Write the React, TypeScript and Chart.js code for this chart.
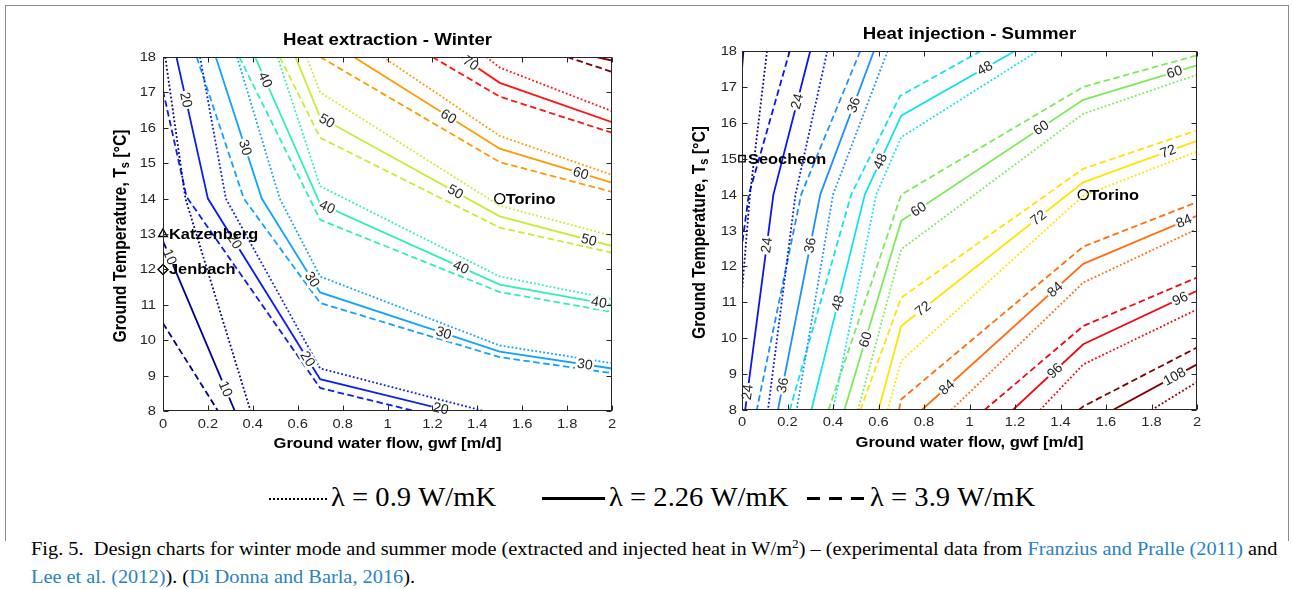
import React, { useEffect, useRef } from 'react';
import { Chart, registerables } from 'chart.js';

Chart.register(...registerables);

type Pt = [number, number];

// ---------- axes ----------
const gwfTicks = [0, 0.2, 0.4, 0.6, 0.8, 1, 1.2, 1.4, 1.6, 1.8, 2];
const tempTicks = [8, 9, 10, 11, 12, 13, 14, 15, 16, 17, 18];

// ---------- winter contour lines [gwf, T] (dot = λ 0.9, sol = λ 2.26, dash = λ 3.9) ----------
const w10_dot: Pt[] = [[0.01, 18], [0.1, 14], [0.39, 8]];
const w10_sol: Pt[] = [[0, 12.8], [0.32, 8]];
const w10_dash: Pt[] = [[0, 10.48], [0.245, 8]];
const w20_dot: Pt[] = [[0.165, 18], [0.28, 14], [0.7, 9.2], [1.43, 8]];
const w20_sol: Pt[] = [[0.06, 18], [0.2, 14], [0.7, 8.9], [1.28, 8]];
const w20_dash: Pt[] = [[0, 17.05], [0.105, 14.05], [0.7, 8.65], [1.12, 8]];
const w30_dot: Pt[] = [[0.33, 18], [0.52, 14], [0.7, 11.8], [1.5, 9.85], [2, 9.35]];
const w30_sol: Pt[] = [[0.235, 18], [0.44, 14], [0.7, 11.35], [1.5, 9.68], [2, 9.2]];
const w30_dash: Pt[] = [[0.15, 18], [0.36, 14], [0.7, 11.05], [1.5, 9.52], [2, 9.07]];
const w40_dot: Pt[] = [[0.51, 18], [0.7, 14.35], [1.5, 11.8], [2, 11.16]];
const w40_sol: Pt[] = [[0.41, 18], [0.7, 13.85], [1.5, 11.57], [2, 11.0]];
const w40_dash: Pt[] = [[0.34, 18], [0.7, 13.4], [1.5, 11.36], [2, 10.8]];
const w50_dot: Pt[] = [[0.64, 18], [0.7, 17.0], [1.5, 13.8], [2, 12.95]];
const w50_sol: Pt[] = [[0.59, 18], [0.7, 16.3], [1.5, 13.5], [2, 12.66]];
const w50_dash: Pt[] = [[0.52, 18], [0.7, 15.72], [1.5, 13.18], [2, 12.47]];
const w60_dot: Pt[] = [[0.98, 18], [1.5, 15.77], [2, 14.67]];
const w60_sol: Pt[] = [[0.85, 18], [1.5, 15.41], [2, 14.45]];
const w60_dash: Pt[] = [[0.7, 18], [1.5, 15.03], [2, 14.19]];
const w70_dot: Pt[] = [[1.44, 18], [1.5, 17.7], [2, 16.47]];
const w70_sol: Pt[] = [[1.33, 18], [1.5, 17.27], [2, 16.16]];
const w70_dash: Pt[] = [[1.2, 18], [1.5, 16.88], [2, 15.86]];
const w80_sol: Pt[] = [[1.93, 18], [2, 17.9]];
const w80_dash: Pt[] = [[1.8, 18], [2, 17.58]];

// contour label anchors [level, gwf, T] (snapped onto the λ = 2.26 line)
const winterLabels: [number, number, number][] = [
  [10, 0.03, 12.35], [10, 0.27, 8.6],
  [20, 0.11, 16.8], [20, 0.32, 12.8], [20, 0.64, 9.45], [20, 1.24, 8.15],
  [30, 0.37, 15.45], [30, 0.66, 11.7], [30, 1.25, 10.2], [30, 1.88, 9.35],
  [40, 0.455, 17.35], [40, 0.73, 13.74], [40, 1.33, 12.1], [40, 1.94, 11.0],
  [50, 0.73, 16.2], [50, 1.29, 14.05], [50, 1.9, 12.9],
  [60, 1.27, 16.3], [60, 1.86, 14.7],
  [70, 1.37, 17.82],
];

// ---------- summer contour lines ----------
const s12_dot: Pt[] = [[0.11, 18], [0.035, 14], [0, 11.3]];
const s12_sol: Pt[] = [[0.006, 18], [0, 17.5]];
const s24_dot: Pt[] = [[0.375, 18], [0.235, 14], [0.114, 8]];
const s24_sol: Pt[] = [[0.3, 18], [0.138, 14], [0.014, 8]];
const s24_dash: Pt[] = [[0.21, 18], [0.03, 14], [0, 12.6]];
const s36_dot: Pt[] = [[0.64, 18], [0.4, 14], [0.24, 8]];
const s36_sol: Pt[] = [[0.58, 18], [0.344, 14], [0.158, 8]];
const s36_dash: Pt[] = [[0.52, 18], [0.26, 14], [0.065, 8]];
const s48_dot: Pt[] = [[0.4, 8], [0.59, 14], [0.7, 15.6], [1.3, 18]];
const s48_sol: Pt[] = [[0.305, 8], [0.54, 14], [0.7, 16.2], [1.2, 18]];
const s48_dash: Pt[] = [[0.21, 8], [0.48, 14], [0.695, 16.75], [1.05, 18]];
const s60_dot: Pt[] = [[0.51, 8], [0.7, 12.48], [1.5, 16.25], [2, 17.34]];
const s60_sol: Pt[] = [[0.45, 8], [0.7, 13.27], [1.5, 16.64], [2, 17.6]];
const s60_dash: Pt[] = [[0.38, 8], [0.7, 14.0], [1.5, 17.0], [2, 17.88]];
const s72_dot: Pt[] = [[0.64, 8], [0.7, 9.37], [1.5, 13.97], [2, 15.2]];
const s72_sol: Pt[] = [[0.6, 8], [0.7, 10.34], [1.5, 14.34], [2, 15.5]];
const s72_dash: Pt[] = [[0.52, 8], [0.7, 11.13], [1.5, 14.72], [2, 15.79]];
const s84_dot: Pt[] = [[0.92, 8], [1.5, 11.55], [2, 13.04]];
const s84_sol: Pt[] = [[0.79, 8], [1.5, 12.07], [2, 13.41]];
const s84_dash: Pt[] = [[0.69, 8], [0.7, 8.3], [1.5, 12.55], [2, 13.79]];
const s96_dot: Pt[] = [[1.31, 8], [1.5, 9.27], [2, 10.8]];
const s96_sol: Pt[] = [[1.19, 8], [1.5, 9.83], [2, 11.32]];
const s96_dash: Pt[] = [[1.066, 8], [1.5, 10.34], [2, 11.69]];
const s108_dot: Pt[] = [[1.8, 8], [2, 8.78]];
const s108_sol: Pt[] = [[1.63, 8], [2, 9.27]];
const s108_dash: Pt[] = [[1.48, 8], [1.5, 8.1], [2, 9.74]];

const summerLabels: [number, number, number][] = [
  [24, 0.24, 16.6], [24, 0.1, 12.6], [24, 0.02, 8.5],
  [36, 0.49, 16.5], [36, 0.29, 12.6], [36, 0.17, 8.7],
  [48, 1.06, 17.6], [48, 0.6, 14.95], [48, 0.41, 11.0],
  [60, 1.9, 17.43], [60, 1.31, 15.9], [60, 0.77, 13.65], [60, 0.54, 9.97],
  [72, 1.87, 15.25], [72, 1.29, 13.46], [72, 0.79, 10.86],
  [84, 1.94, 13.3], [84, 1.37, 11.4], [84, 0.89, 8.7],
  [96, 1.92, 11.18], [96, 1.37, 9.13],
  [108, 1.9, 8.95],
];

// ---------- stations ----------
const winterStations = [
  { name: 'Katzenberg', gwf: 0, T: 13, marker: 'triangle' },
  { name: 'Jenbach', gwf: 0, T: 12, marker: 'rectRot' },
  { name: 'Torino', gwf: 1.5, T: 14, marker: 'circle' },
];
const summerStations = [
  { name: 'Seocheon', gwf: 0, T: 15, marker: 'rect' },
  { name: 'Torino', gwf: 1.5, T: 14, marker: 'circle' },
];

type Line = { level: number; lam: number; pts: Pt[] };

const winterLines: Line[] = [
  { level: 10, lam: 0.9, pts: w10_dot }, { level: 10, lam: 2.26, pts: w10_sol }, { level: 10, lam: 3.9, pts: w10_dash },
  { level: 20, lam: 0.9, pts: w20_dot }, { level: 20, lam: 2.26, pts: w20_sol }, { level: 20, lam: 3.9, pts: w20_dash },
  { level: 30, lam: 0.9, pts: w30_dot }, { level: 30, lam: 2.26, pts: w30_sol }, { level: 30, lam: 3.9, pts: w30_dash },
  { level: 40, lam: 0.9, pts: w40_dot }, { level: 40, lam: 2.26, pts: w40_sol }, { level: 40, lam: 3.9, pts: w40_dash },
  { level: 50, lam: 0.9, pts: w50_dot }, { level: 50, lam: 2.26, pts: w50_sol }, { level: 50, lam: 3.9, pts: w50_dash },
  { level: 60, lam: 0.9, pts: w60_dot }, { level: 60, lam: 2.26, pts: w60_sol }, { level: 60, lam: 3.9, pts: w60_dash },
  { level: 70, lam: 0.9, pts: w70_dot }, { level: 70, lam: 2.26, pts: w70_sol }, { level: 70, lam: 3.9, pts: w70_dash },
  { level: 80, lam: 2.26, pts: w80_sol }, { level: 80, lam: 3.9, pts: w80_dash },
];

const summerLines: Line[] = [
  { level: 12, lam: 0.9, pts: s12_dot }, { level: 12, lam: 2.26, pts: s12_sol },
  { level: 24, lam: 0.9, pts: s24_dot }, { level: 24, lam: 2.26, pts: s24_sol }, { level: 24, lam: 3.9, pts: s24_dash },
  { level: 36, lam: 0.9, pts: s36_dot }, { level: 36, lam: 2.26, pts: s36_sol }, { level: 36, lam: 3.9, pts: s36_dash },
  { level: 48, lam: 0.9, pts: s48_dot }, { level: 48, lam: 2.26, pts: s48_sol }, { level: 48, lam: 3.9, pts: s48_dash },
  { level: 60, lam: 0.9, pts: s60_dot }, { level: 60, lam: 2.26, pts: s60_sol }, { level: 60, lam: 3.9, pts: s60_dash },
  { level: 72, lam: 0.9, pts: s72_dot }, { level: 72, lam: 2.26, pts: s72_sol }, { level: 72, lam: 3.9, pts: s72_dash },
  { level: 84, lam: 0.9, pts: s84_dot }, { level: 84, lam: 2.26, pts: s84_sol }, { level: 84, lam: 3.9, pts: s84_dash },
  { level: 96, lam: 0.9, pts: s96_dot }, { level: 96, lam: 2.26, pts: s96_sol }, { level: 96, lam: 3.9, pts: s96_dash },
  { level: 108, lam: 0.9, pts: s108_dot }, { level: 108, lam: 2.26, pts: s108_sol }, { level: 108, lam: 3.9, pts: s108_dash },
];

// ---------- styles ----------
const winterColors: Record<number, string> = {
  10: '#00008f', 20: '#0a1ef0', 30: '#12a2ff', 40: '#30eebb', 50: '#c2f032', 60: '#ff9a00', 70: '#ff1414', 80: '#7f0000',
};
const summerColors: Record<number, string> = {
  12: '#00008f', 24: '#0a14f5', 36: '#2090ff', 48: '#12e2f2', 60: '#7ceb5a', 72: '#ffe400', 84: '#ff6e10', 96: '#ee0a14', 108: '#7f0000',
};
const dashFor: Record<string, number[]> = { '0.9': [1.8, 2.2], '2.26': [], '3.9': [6.5, 3.5] };
const widthFor: Record<string, number> = { '0.9': 1.8, '2.26': 1.8, '3.9': 1.8 };

const SANS = '"Liberation Sans", Arial, Helvetica, sans-serif';
const SERIF = '"Liberation Serif", "Times New Roman", serif';
const STRETCH = 1.13; // the reference figure is set slightly wide

type PanelProps = {
  title: string;
  lines: Line[];
  colors: Record<number, string>;
  labels: [number, number, number][];
  stations: { name: string; gwf: number; T: number; marker: string }[];
  left: number; top: number; w: number; h: number;
  pad: { left: number; right: number; top: number; bottom: number };
  yGap: number;
  xGap: number;
};

function snapLabel(chart: any, pts: Pt[], gx: number, gy: number) {
  const xs = chart.scales.x, ys = chart.scales.y;
  const px = xs.getPixelForValue(gx), py = ys.getPixelForValue(gy);
  let best: any = null;
  for (let i = 0; i < pts.length - 1; i++) {
    const ax = xs.getPixelForValue(pts[i][0]), ay = ys.getPixelForValue(pts[i][1]);
    const bx = xs.getPixelForValue(pts[i + 1][0]), by = ys.getPixelForValue(pts[i + 1][1]);
    const dx = bx - ax, dy = by - ay;
    const L = dx * dx + dy * dy || 1;
    let t = ((px - ax) * dx + (py - ay) * dy) / L;
    t = Math.max(0, Math.min(1, t));
    const qx = ax + t * dx, qy = ay + t * dy;
    const d = Math.hypot(px - qx, py - qy);
    if (!best || d < best.d) best = { d, qx, qy, ang: Math.atan2(dy, dx) };
  }
  let ang = best.ang;
  while (ang > Math.PI / 2) ang -= Math.PI;
  while (ang <= -Math.PI / 2) ang += Math.PI;
  return { x: best.qx, y: best.qy, ang };
}

function wideText(ctx: any, text: string, x: number, y: number) {
  ctx.save();
  ctx.translate(x, y);
  ctx.scale(STRETCH, 1);
  ctx.fillText(text, 0, 0);
  ctx.restore();
}

function Panel(p: PanelProps) {
  const ref = useRef<HTMLCanvasElement>(null);
  useEffect(() => {
    const lineSets = p.lines.map((l) => ({
      data: l.pts.map(([x, y]) => ({ x, y })),
      showLine: true,
      borderColor: p.colors[l.level],
      borderWidth: widthFor[String(l.lam)],
      borderDash: dashFor[String(l.lam)],
      pointRadius: 0,
      fill: false,
      tension: 0,
    }));
    const stationSets = p.stations.map((s) => ({
      data: [{ x: s.gwf, y: s.T }],
      showLine: false,
      pointStyle: s.marker,
      pointRadius: s.marker === 'rect' ? 4.5 : 5,
      pointBorderColor: '#000',
      pointBackgroundColor: 'rgba(0,0,0,0)',
      pointBorderWidth: 1.4,
      clip: false,
    }));
    const plugin = {
      id: 'panelDecor',
      afterDatasetsDraw(chart: any) {
        const ctx = chart.ctx;
        const xs = chart.scales.x, ys = chart.scales.y;
        ctx.save();
        ctx.font = `14px ${SANS}`;
        ctx.textAlign = 'center';
        ctx.textBaseline = 'middle';
        for (const [level, gx, gy] of p.labels) {
          const line = p.lines.find((l) => l.level === level && l.lam === 2.26);
          if (!line) continue;
          const s = snapLabel(chart, line.pts, gx, gy);
          ctx.save();
          ctx.translate(s.x, s.y);
          ctx.rotate(s.ang);
          const txt = String(level);
          const w = ctx.measureText(txt).width;
          ctx.fillStyle = '#fff';
          ctx.fillRect(-w / 2 - 1.5, -6.5, w + 3, 13);
          ctx.fillStyle = '#262626';
          ctx.fillText(txt, 0, 0.5);
          ctx.restore();
        }
        ctx.font = `bold 14.5px ${SANS}`;
        ctx.textAlign = 'left';
        ctx.fillStyle = '#000';
        for (const st of p.stations) {
          wideText(ctx, st.name, xs.getPixelForValue(st.gwf) + 6, ys.getPixelForValue(st.T) + 1);
        }
        ctx.restore();
      },
      afterDraw(chart: any) {
        const ctx = chart.ctx;
        const a = chart.chartArea;
        const xs = chart.scales.x, ys = chart.scales.y;
        ctx.save();
        ctx.strokeStyle = '#262626';
        ctx.lineWidth = 1;
        const L = Math.round(a.left) + 0.5, R = Math.round(a.right) - 0.5;
        const T = Math.round(a.top) + 0.5, B = Math.round(a.bottom) - 0.5;
        ctx.strokeRect(L, T, R - L, B - T);
        ctx.beginPath();
        const tl = 5;
        for (const v of gwfTicks) {
          const x = Math.round(xs.getPixelForValue(v)) + 0.5;
          ctx.moveTo(x, B); ctx.lineTo(x, B - tl);
          ctx.moveTo(x, T); ctx.lineTo(x, T + tl);
        }
        for (const v of tempTicks) {
          const y = Math.round(ys.getPixelForValue(v)) + 0.5;
          ctx.moveTo(L, y); ctx.lineTo(L + tl, y);
          ctx.moveTo(R, y); ctx.lineTo(R - tl, y);
        }
        ctx.stroke();
        // tick labels
        ctx.fillStyle = '#262626';
        ctx.font = `13px ${SANS}`;
        ctx.textBaseline = 'middle';
        ctx.textAlign = 'center';
        for (const v of gwfTicks) wideText(ctx, String(v), xs.getPixelForValue(v), a.bottom + p.xGap);
        ctx.textAlign = 'right';
        for (const v of tempTicks) wideText(ctx, String(v), a.left - p.yGap, ys.getPixelForValue(v) + 0.5);
        // titles
        ctx.fillStyle = '#000';
        ctx.textAlign = 'center';
        const cx = (a.left + a.right) / 2;
        ctx.font = `bold 16.5px ${SANS}`;
        wideText(ctx, p.title, cx, a.top - 17);
        ctx.font = `bold 14.7px ${SANS}`;
        wideText(ctx, 'Ground water flow, gwf [m/d]', cx, a.bottom + 33);
        // y title with subscript
        const cy = (a.top + a.bottom) / 2 + 2;
        ctx.translate(a.left - 42, cy);
        ctx.scale(STRETCH, 1);
        ctx.rotate(-Math.PI / 2);
        ctx.textAlign = 'left';
        const p1 = 'Ground Temperature, T', p2 = 's', p3 = ' [°C]';
        const big = `bold 15.8px ${SANS}`, small = `bold 11px ${SANS}`;
        ctx.font = big;
        const w1 = ctx.measureText(p1).width, w3 = ctx.measureText(p3).width;
        ctx.font = small;
        const w2 = ctx.measureText(p2).width;
        const start = -(w1 + w2 + w3) / 2;
        ctx.font = big;
        ctx.fillText(p1, start, 0);
        ctx.font = small;
        ctx.fillText(p2, start + w1, 4);
        ctx.font = big;
        ctx.fillText(p3, start + w1 + w2, 0);
        ctx.restore();
      },
    };
    const chart = new Chart(ref.current as HTMLCanvasElement, {
      type: 'scatter',
      data: { datasets: [...lineSets, ...stationSets] as any },
      options: {
        animation: false,
        responsive: false,
        maintainAspectRatio: false,
        events: [],
        layout: { padding: p.pad },
        plugins: { legend: { display: false }, tooltip: { enabled: false }, title: { display: false } },
        scales: {
          x: {
            type: 'linear', min: 0, max: 2,
            afterBuildTicks: (s: any) => { s.ticks = gwfTicks.map((v) => ({ value: v })); },
            afterFit: (s: any) => { s.height = 20; },
            ticks: { display: false },
            grid: { display: false, drawTicks: false },
            border: { display: false },
          },
          y: {
            type: 'linear', min: 8, max: 18,
            afterBuildTicks: (s: any) => { s.ticks = tempTicks.map((v) => ({ value: v })); },
            afterFit: (s: any) => { s.width = 40; },
            ticks: { display: false },
            grid: { display: false, drawTicks: false },
            border: { display: false },
          },
        },
      } as any,
      plugins: [plugin],
    });
    return () => chart.destroy();
  }, []);
  return (
    <canvas
      ref={ref}
      width={p.w}
      height={p.h}
      style={{ position: 'absolute', left: p.left, top: p.top, width: p.w, height: p.h }}
    />
  );
}

const linkColor = '#2a82bf';
const legendText: React.CSSProperties = {
  position: 'absolute', top: 481, font: `27px ${SERIF}`, lineHeight: '32px', whiteSpace: 'nowrap',
  transform: 'scaleX(1.06)', transformOrigin: 'left center',
};

export default function App() {
  useEffect(() => {
    document.body.style.margin = '0';
  }, []);
  return (
    <div style={{ position: 'absolute', left: 0, top: 0, width: 1293, height: 589, background: '#fff', overflow: 'hidden' }}>
      <div style={{ position: 'absolute', left: 5, top: 5, width: 1282, height: 535, borderLeft: '1px solid #8a8a8a', borderTop: '1px solid #8a8a8a', borderRight: '1px solid #8a8a8a' }} />
      <Panel
        title="Heat extraction - Winter"
        lines={winterLines}
        colors={winterColors}
        labels={winterLabels}
        stations={winterStations}
        left={100} top={20} w={540} h={450}
        pad={{ left: 23, right: 28, top: 37, bottom: 39 }}
        yGap={7} xGap={13}
      />
      <Panel
        title="Heat injection - Summer"
        lines={summerLines}
        colors={summerColors}
        labels={summerLabels}
        stations={summerStations}
        left={680} top={15} w={540} h={455}
        pad={{ left: 22, right: 23, top: 36, bottom: 40 }}
        yGap={5} xGap={12}
      />
      {/* legend */}
      <div style={{ position: 'absolute', left: 269, top: 498, width: 58, borderTop: '2px dotted #000' }} />
      <div style={{ ...legendText, left: 331 }}>λ = 0.9 W/mK</div>
      <div style={{ position: 'absolute', left: 542, top: 497, width: 63, borderTop: '3px solid #000' }} />
      <div style={{ ...legendText, left: 609 }}>λ = 2.26 W/mK</div>
      <div style={{ position: 'absolute', left: 807, top: 497, width: 13, borderTop: '3px solid #000' }} />
      <div style={{ position: 'absolute', left: 829, top: 497, width: 13, borderTop: '3px solid #000' }} />
      <div style={{ position: 'absolute', left: 851, top: 497, width: 13, borderTop: '3px solid #000' }} />
      <div style={{ ...legendText, left: 870 }}>λ = 3.9 W/mK</div>
      {/* caption */}
      <div style={{ position: 'absolute', left: 31, top: 535, font: `18px ${SERIF}`, lineHeight: '28px', whiteSpace: 'nowrap', color: '#000', transform: `scaleX(${STRETCH})`, transformOrigin: 'left top' }}>
        <div>
          Fig. 5.{'\u00a0\u00a0'}Design charts for winter mode and summer mode (extracted and injected heat in W/m
          <sup style={{ fontSize: '0.65em', lineHeight: 0, verticalAlign: '0.6em' }}>2</sup>) – (experimental data from{' '}
          <span style={{ color: linkColor }}>Franzius and Pralle (2011)</span> and
        </div>
        <div>
          <span style={{ color: linkColor }}>Lee et al. (2012)</span>). (<span style={{ color: linkColor }}>Di Donna and Barla, 2016</span>).
        </div>
      </div>
    </div>
  );
}
